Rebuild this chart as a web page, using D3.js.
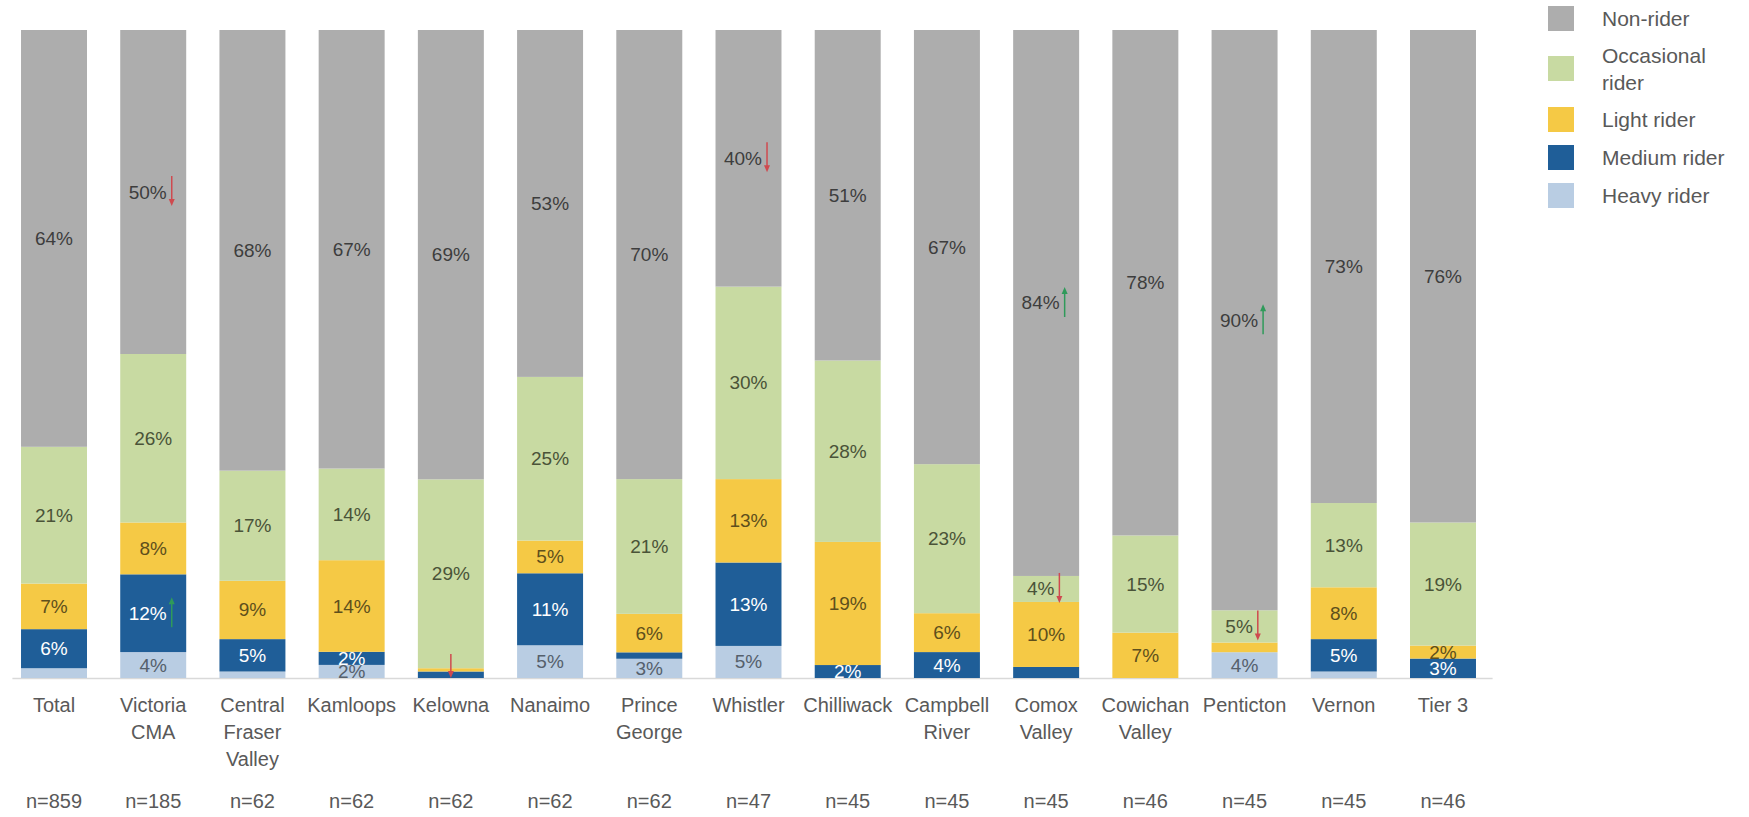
<!DOCTYPE html>
<html>
<head>
<meta charset="utf-8">
<script src="https://cdn.jsdelivr.net/npm/d3@7"></script>
<style>
  html, body { margin: 0; padding: 0; background: #ffffff; }
  svg { display: block; font-family: "Liberation Sans", Arial, sans-serif; }
</style>
</head>
<body>
<svg id="chart" width="1749" height="817"></svg>
<script>
// ---------- DATA ----------
const categories = ["Total", "Victoria CMA", "Central Fraser Valley", "Kamloops", "Kelowna", "Nanaimo",
  "Prince George", "Whistler", "Chilliwack", "Campbell River", "Comox Valley", "Cowichan Valley",
  "Penticton", "Vernon", "Tier 3"];
const sampleSizes = ["n=859", "n=185", "n=62", "n=62", "n=62", "n=62", "n=62", "n=47", "n=45",
  "n=45", "n=45", "n=46", "n=45", "n=45", "n=46"];
const seriesNames = ["Heavy rider", "Medium rider", "Light rider", "Occasional rider", "Non-rider"];
const heavyRider      = [1.5, 4, 1, 2, 0, 5, 3, 5, 0, 0, 0, 0, 4, 1, 0];
const mediumRider     = [6, 12, 5, 2, 1, 11, 1, 13, 2, 4, 1.7, 0, 0, 5, 3];
const lightRider      = [7, 8, 9, 14, 0.5, 5, 6, 13, 19, 6, 10, 7, 1.5, 8, 2];
const occasionalRider = [21, 26, 17, 14, 29, 25, 21, 30, 28, 23, 4, 15, 5, 13, 19];
const nonRider        = [64, 50, 68, 67, 69, 53, 70, 40, 51, 67, 84, 78, 90, 73, 76];
const legendOrder = ["Non-rider", "Occasional rider", "Light rider", "Medium rider", "Heavy rider"];
// significance arrows: [category, series, direction]
const arrowCats   = ["Victoria CMA", "Victoria CMA", "Kelowna", "Whistler", "Comox Valley", "Comox Valley", "Penticton", "Penticton"];
const arrowSeries = ["Non-rider", "Medium rider", "Medium rider", "Non-rider", "Non-rider", "Occasional rider", "Non-rider", "Occasional rider"];
const arrowDirs   = ["down", "up", "down", "down", "up", "down", "up", "down"];

// ---------- STYLE ----------
const colors = {
  "Non-rider": "#adadad",
  "Occasional rider": "#c8daa2",
  "Light rider": "#f5c945",
  "Medium rider": "#1f5e98",
  "Heavy rider": "#b9cde3"
};
const labelColors = {
  "Non-rider": "#3d3d3d",
  "Occasional rider": "#4a5338",
  "Light rider": "#5e4f1c",
  "Medium rider": "#ffffff",
  "Heavy rider": "#55606c"
};
const arrowColor = { down: "#cf4a4f", up: "#2f9a5a" };

const seriesValues = {
  "Heavy rider": heavyRider, "Medium rider": mediumRider, "Light rider": lightRider,
  "Occasional rider": occasionalRider, "Non-rider": nonRider
};
const rows = categories.map((c, i) => {
  const r = { cat: c };
  seriesNames.forEach(s => r[s] = seriesValues[s][i]);
  return r;
});

const svg = d3.select("#chart");
const x = d3.scaleBand().domain(categories).range([4.4, 1492.6]).paddingInner(0.335).paddingOuter(0.1675);
const y = d3.scaleLinear().domain([0, 1]).range([678, 30]);

const stack = d3.stack().keys(seriesNames).offset(d3.stackOffsetExpand);
const stacked = stack(rows);

// axis baseline
svg.append("line").attr("x1", x.range()[0] + 8).attr("x2", x.range()[1])
  .attr("y1", y(0) + 0.5).attr("y2", y(0) + 0.5)
  .attr("stroke", "#d9d9d9").attr("stroke-width", 1.5);

// bars
const layers = svg.append("g").selectAll("g").data(stacked).join("g")
  .attr("fill", d => colors[d.key]);
layers.selectAll("rect").data(d => d).join("rect")
  .attr("x", d => x(d.data.cat))
  .attr("width", x.bandwidth())
  .attr("y", d => y(d[1]))
  .attr("height", d => Math.max(0, y(d[0]) - y(d[1])));

// value labels + arrows
const labG = svg.append("g").attr("font-size", 19);
function drawArrow(g, ax, ay, dir, h) {
  const hw = 3, hh = 7;
  const top = ay - h / 2, bot = ay + h / 2;
  const col = arrowColor[dir];
  if (dir === "down") {
    g.append("line").attr("x1", ax).attr("x2", ax).attr("y1", top).attr("y2", bot - 3)
      .attr("stroke", col).attr("stroke-width", 1.5);
    g.append("path").attr("d", `M${ax - hw},${bot - hh} L${ax},${bot} L${ax + hw},${bot - hh} Z`)
      .attr("fill", col);
  } else {
    g.append("line").attr("x1", ax).attr("x2", ax).attr("y1", top + 3).attr("y2", bot)
      .attr("stroke", col).attr("stroke-width", 1.5);
    g.append("path").attr("d", `M${ax - hw},${top + hh} L${ax},${top} L${ax + hw},${top + hh} Z`)
      .attr("fill", col);
  }
}
stacked.forEach(layer => {
  layer.forEach((d, i) => {
    const s = layer.key;
    const v = seriesValues[s][i];
    const cx = x(d.data.cat) + x.bandwidth() / 2;
    const cy = (y(d[0]) + y(d[1])) / 2;
    let ai = -1;
    arrowCats.forEach((c, k) => { if (c === d.data.cat && arrowSeries[k] === s) ai = k; });
    if (v >= 2) {
      const t = labG.append("text").attr("text-anchor", "start").attr("dominant-baseline", "central")
        .attr("fill", labelColors[s]).attr("y", cy).text(Math.round(v) + "%");
      const tw = t.node().getComputedTextLength();
      if (ai >= 0) {
        const gap = 5;
        const start = cx - (tw + gap) / 2 - 3;
        t.attr("x", start);
        drawArrow(labG, start + tw + gap, cy - 1, arrowDirs[ai], 30);
      } else {
        t.attr("x", cx - tw / 2);
      }
    } else if (ai >= 0) {
      drawArrow(labG, cx, y(0) - 12, arrowDirs[ai], 24);
    }
  });
});

// category labels (wrapped)
const catG = svg.append("g").attr("font-size", 20).attr("fill", "#595959");
categories.forEach((c, i) => {
  const cx = x(c) + x.bandwidth() / 2;
  const t = catG.append("text").attr("text-anchor", "middle").attr("x", cx).attr("y", 712);
  const words = c.split(" ");
  let lines = [], cur = "";
  const probe = catG.append("text").attr("visibility", "hidden");
  words.forEach(w => {
    const trial = cur ? cur + " " + w : w;
    probe.text(trial);
    if (cur && probe.node().getComputedTextLength() > 92) { lines.push(cur); cur = w; }
    else cur = trial;
  });
  lines.push(cur);
  probe.remove();
  lines.forEach((ln, k) => {
    t.append("tspan").attr("x", cx).attr("dy", k === 0 ? 0 : 27).text(ln);
  });
  catG.append("text").attr("text-anchor", "middle").attr("x", cx).attr("y", 808).text(sampleSizes[i]);
});

// legend
const lg = svg.append("g").attr("font-size", 21).attr("fill", "#595959");
const legendY = [18, 68, 119, 157, 195];
legendOrder.forEach((s, i) => {
  const cy = legendY[i];
  lg.append("rect").attr("x", 1548).attr("y", cy - 12).attr("width", 26).attr("height", 25)
    .attr("fill", colors[s]);
  if (s === "Occasional rider") {
    lg.append("text").attr("x", 1602).attr("y", cy - 13).attr("dominant-baseline", "central").text("Occasional");
    lg.append("text").attr("x", 1602).attr("y", cy + 14).attr("dominant-baseline", "central").text("rider");
  } else {
    lg.append("text").attr("x", 1602).attr("y", cy).attr("dominant-baseline", "central").text(s);
  }
});
</script>
</body>
</html>
